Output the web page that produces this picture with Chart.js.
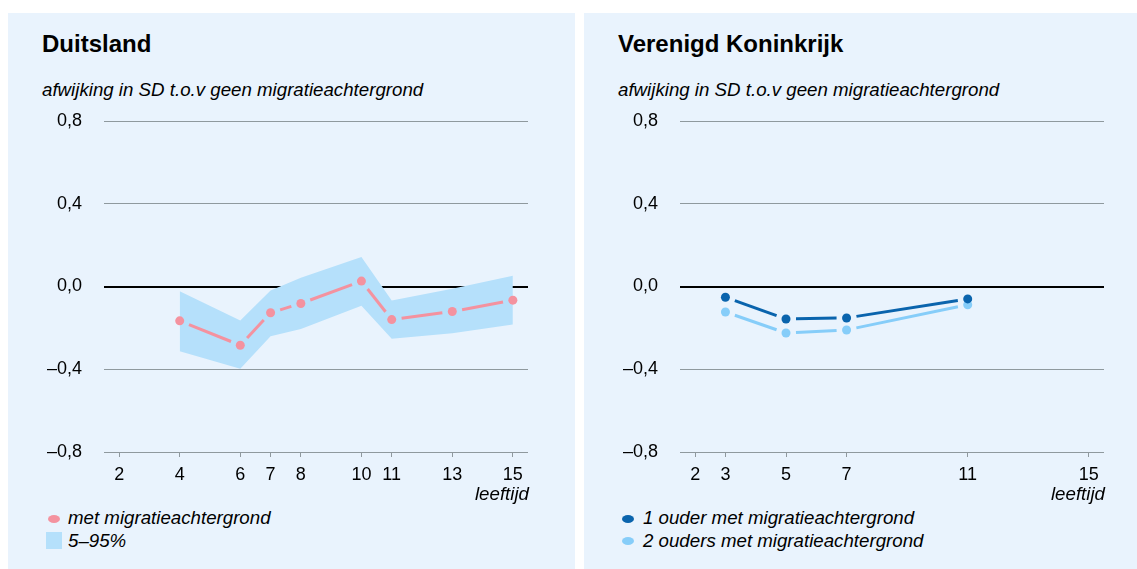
<!DOCTYPE html>
<html>
<head>
<meta charset="utf-8">
<script src="https://cdn.jsdelivr.net/npm/chart.js@4/dist/chart.umd.min.js"></script>
<style>
  html, body { margin: 0; padding: 0; background: #fff; width: 1137px; height: 569px; overflow: hidden; }
  body { position: relative; font-family: "Liberation Sans", Arial, sans-serif; color: #000; }
  .panel { position: absolute; top: 13px; height: 556px; background: #e9f3fd; }
  .title { position: absolute; font-weight: bold; font-size: 24px; line-height: 1; white-space: nowrap; }
  .sub { position: absolute; font-style: italic; font-size: 18.7px; line-height: 1; white-space: nowrap; }
  .xlab { position: absolute; font-style: italic; font-size: 18.7px; line-height: 1; text-align: right; width: 120px; }
  .leg { position: absolute; font-style: italic; font-size: 18.7px; line-height: 1; white-space: nowrap; }
  .dot { position: absolute; width: 12px; height: 8px; border-radius: 50%; }
  .box { position: absolute; width: 16px; height: 17px; }
  canvas { position: absolute; }
</style>
</head>
<body>
<div class="panel" style="left:8px;width:567px"></div>
<div class="panel" style="left:584px;width:553px"></div>

<div class="title" style="left:42px;top:32px">Duitsland</div>
<div class="sub" style="left:42px;top:81px">afwijking in SD t.o.v geen migratieachtergrond</div>
<div class="title" style="left:618px;top:32px">Verenigd Koninkrijk</div>
<div class="sub" style="left:618px;top:81px">afwijking in SD t.o.v geen migratieachtergrond</div>

<canvas id="chartDE" width="510" height="385" style="left:30px;top:100px"></canvas>
<canvas id="chartUK" width="510" height="385" style="left:606px;top:100px"></canvas>

<div class="xlab" style="left:409px;top:485px">leeftijd</div>
<div class="xlab" style="left:985px;top:485px">leeftijd</div>

<span class="dot" style="left:48px;top:515px;background:#f4929f"></span>
<div class="leg" style="left:68px;top:509px">met migratieachtergrond</div>
<span class="box" style="left:46px;top:532px;background:#b5e0fb"></span>
<div class="leg" style="left:68px;top:532px">5–95%</div>

<span class="dot" style="left:622px;top:515px;background:#0a64ad"></span>
<div class="leg" style="left:643px;top:509px">1 ouder met migratieachtergrond</div>
<span class="dot" style="left:622px;top:537px;background:#86cdf9"></span>
<div class="leg" style="left:643px;top:532px">2 ouders met migratieachtergrond</div>

<script>
// Duitsland
const ageDE = [4, 6, 7, 8, 10, 11, 13, 15];
const meanDE = [-0.166, -0.284, -0.127, -0.082, 0.026, -0.16, -0.121, -0.066];
const upperDE = [-0.023, -0.164, -0.019, 0.042, 0.142, -0.068, -0.011, 0.052];
const lowerDE = [-0.313, -0.398, -0.24, -0.205, -0.093, -0.253, -0.226, -0.184];
const ticksDE = [2, 4, 6, 7, 8, 10, 11, 13, 15];

// Verenigd Koninkrijk
const ageUK = [3, 5, 7, 11];
const oneParentUK = [-0.052, -0.157, -0.152, -0.06];
const twoParentsUK = [-0.123, -0.225, -0.21, -0.088];
const ticksUK = [2, 3, 5, 7, 11, 15];

const yTicks = [-0.8, -0.4, 0, 0.4, 0.8];

const PINK = '#f4929f';
const BAND = '#b5e0fb';
const DARK = '#0a64ad';
const LIGHT = '#86cdf9';
const GRID = '#8f999e';

const pts = (xs, ys) => xs.map((x, i) => ({ x, y: ys[i] }));
const fmtY = v => (v < 0 ? '–' : '') + Math.abs(v).toFixed(1).replace('.', ',');

// line segments that stop short of each point
const gapLines = {
  id: 'gapLines',
  afterDatasetDraw(chart, args) {
    const ds = chart.data.datasets[args.index];
    if (!ds.gap) return;
    const el = args.meta.data;
    const ctx = chart.ctx;
    ctx.save();
    ctx.strokeStyle = ds.pointBackgroundColor;
    ctx.lineWidth = ds.gapWidth;
    for (let i = 1; i < el.length; i++) {
      const a = el[i - 1], b = el[i];
      const dx = b.x - a.x, dy = b.y - a.y;
      const len = Math.hypot(dx, dy);
      if (len <= 2 * ds.gap) continue;
      const ux = dx / len, uy = dy / len;
      ctx.beginPath();
      ctx.moveTo(a.x + ux * ds.gap, a.y + uy * ds.gap);
      ctx.lineTo(b.x - ux * ds.gap, b.y - uy * ds.gap);
      ctx.stroke();
    }
    ctx.restore();
  }
};

function makeOptions(xTicks) {
  return {
    responsive: false,
    animation: false,
    devicePixelRatio: 1,
    layout: { padding: { top: 21, right: 12, left: 0, bottom: 0 } },
    plugins: { legend: { display: false }, tooltip: { enabled: false } },
    scales: {
      x: {
        type: 'linear',
        min: 1.5,
        max: 15.5,
        afterBuildTicks: s => { s.ticks = xTicks.map(v => ({ value: v })); },
        afterFit: s => { s.height = 33; s.paddingLeft = 0; s.paddingRight = 0; },
        border: { display: false },
        grid: { drawOnChartArea: false, drawTicks: true, tickLength: 5, color: GRID, lineWidth: 1 },
        ticks: {
          padding: 7,
          maxRotation: 0,
          autoSkip: false,
          color: '#000',
          font: { family: 'Liberation Sans', size: 18 },
          callback: v => String(v)
        }
      },
      y: {
        min: -0.8,
        max: 0.8,
        afterBuildTicks: s => { s.ticks = yTicks.map(v => ({ value: v })); },
        afterFit: s => { s.width = 74; s.paddingTop = 0; s.paddingBottom = 0; },
        border: { display: false },
        grid: {
          drawTicks: false,
          color: c => (c.tick && c.tick.value === 0 ? '#000' : GRID),
          lineWidth: c => (c.tick && c.tick.value === 0 ? 2 : 1)
        },
        ticks: {
          padding: 22,
          color: '#000',
          font: { family: 'Liberation Sans', size: 18 },
          callback: v => fmtY(v)
        }
      }
    }
  };
}

new Chart(document.getElementById('chartDE').getContext('2d'), {
  type: 'line',
  plugins: [gapLines],
  data: {
    datasets: [
      { label: 'lower', data: pts(ageDE, lowerDE), order: 2, borderWidth: 0, pointRadius: 0, fill: false, tension: 0 },
      { label: '5–95%', data: pts(ageDE, upperDE), order: 1, borderWidth: 0, pointRadius: 0, fill: '-1', backgroundColor: BAND, tension: 0 },
      {
        label: 'met migratieachtergrond', data: pts(ageDE, meanDE), order: 0, showLine: false,
        pointRadius: 4.5, pointBorderWidth: 0, pointBackgroundColor: PINK, gap: 10, gapWidth: 3
      }
    ]
  },
  options: makeOptions(ticksDE)
});

new Chart(document.getElementById('chartUK').getContext('2d'), {
  type: 'line',
  plugins: [gapLines],
  data: {
    datasets: [
      {
        label: '1 ouder met migratieachtergrond', data: pts(ageUK, oneParentUK), order: 0, showLine: false,
        pointRadius: 4.5, pointBorderWidth: 0, pointBackgroundColor: DARK, gap: 10, gapWidth: 3
      },
      {
        label: '2 ouders met migratieachtergrond', data: pts(ageUK, twoParentsUK), order: 1, showLine: false,
        pointRadius: 4.5, pointBorderWidth: 0, pointBackgroundColor: LIGHT, gap: 10, gapWidth: 3
      }
    ]
  },
  options: makeOptions(ticksUK)
});
</script>
</body>
</html>
